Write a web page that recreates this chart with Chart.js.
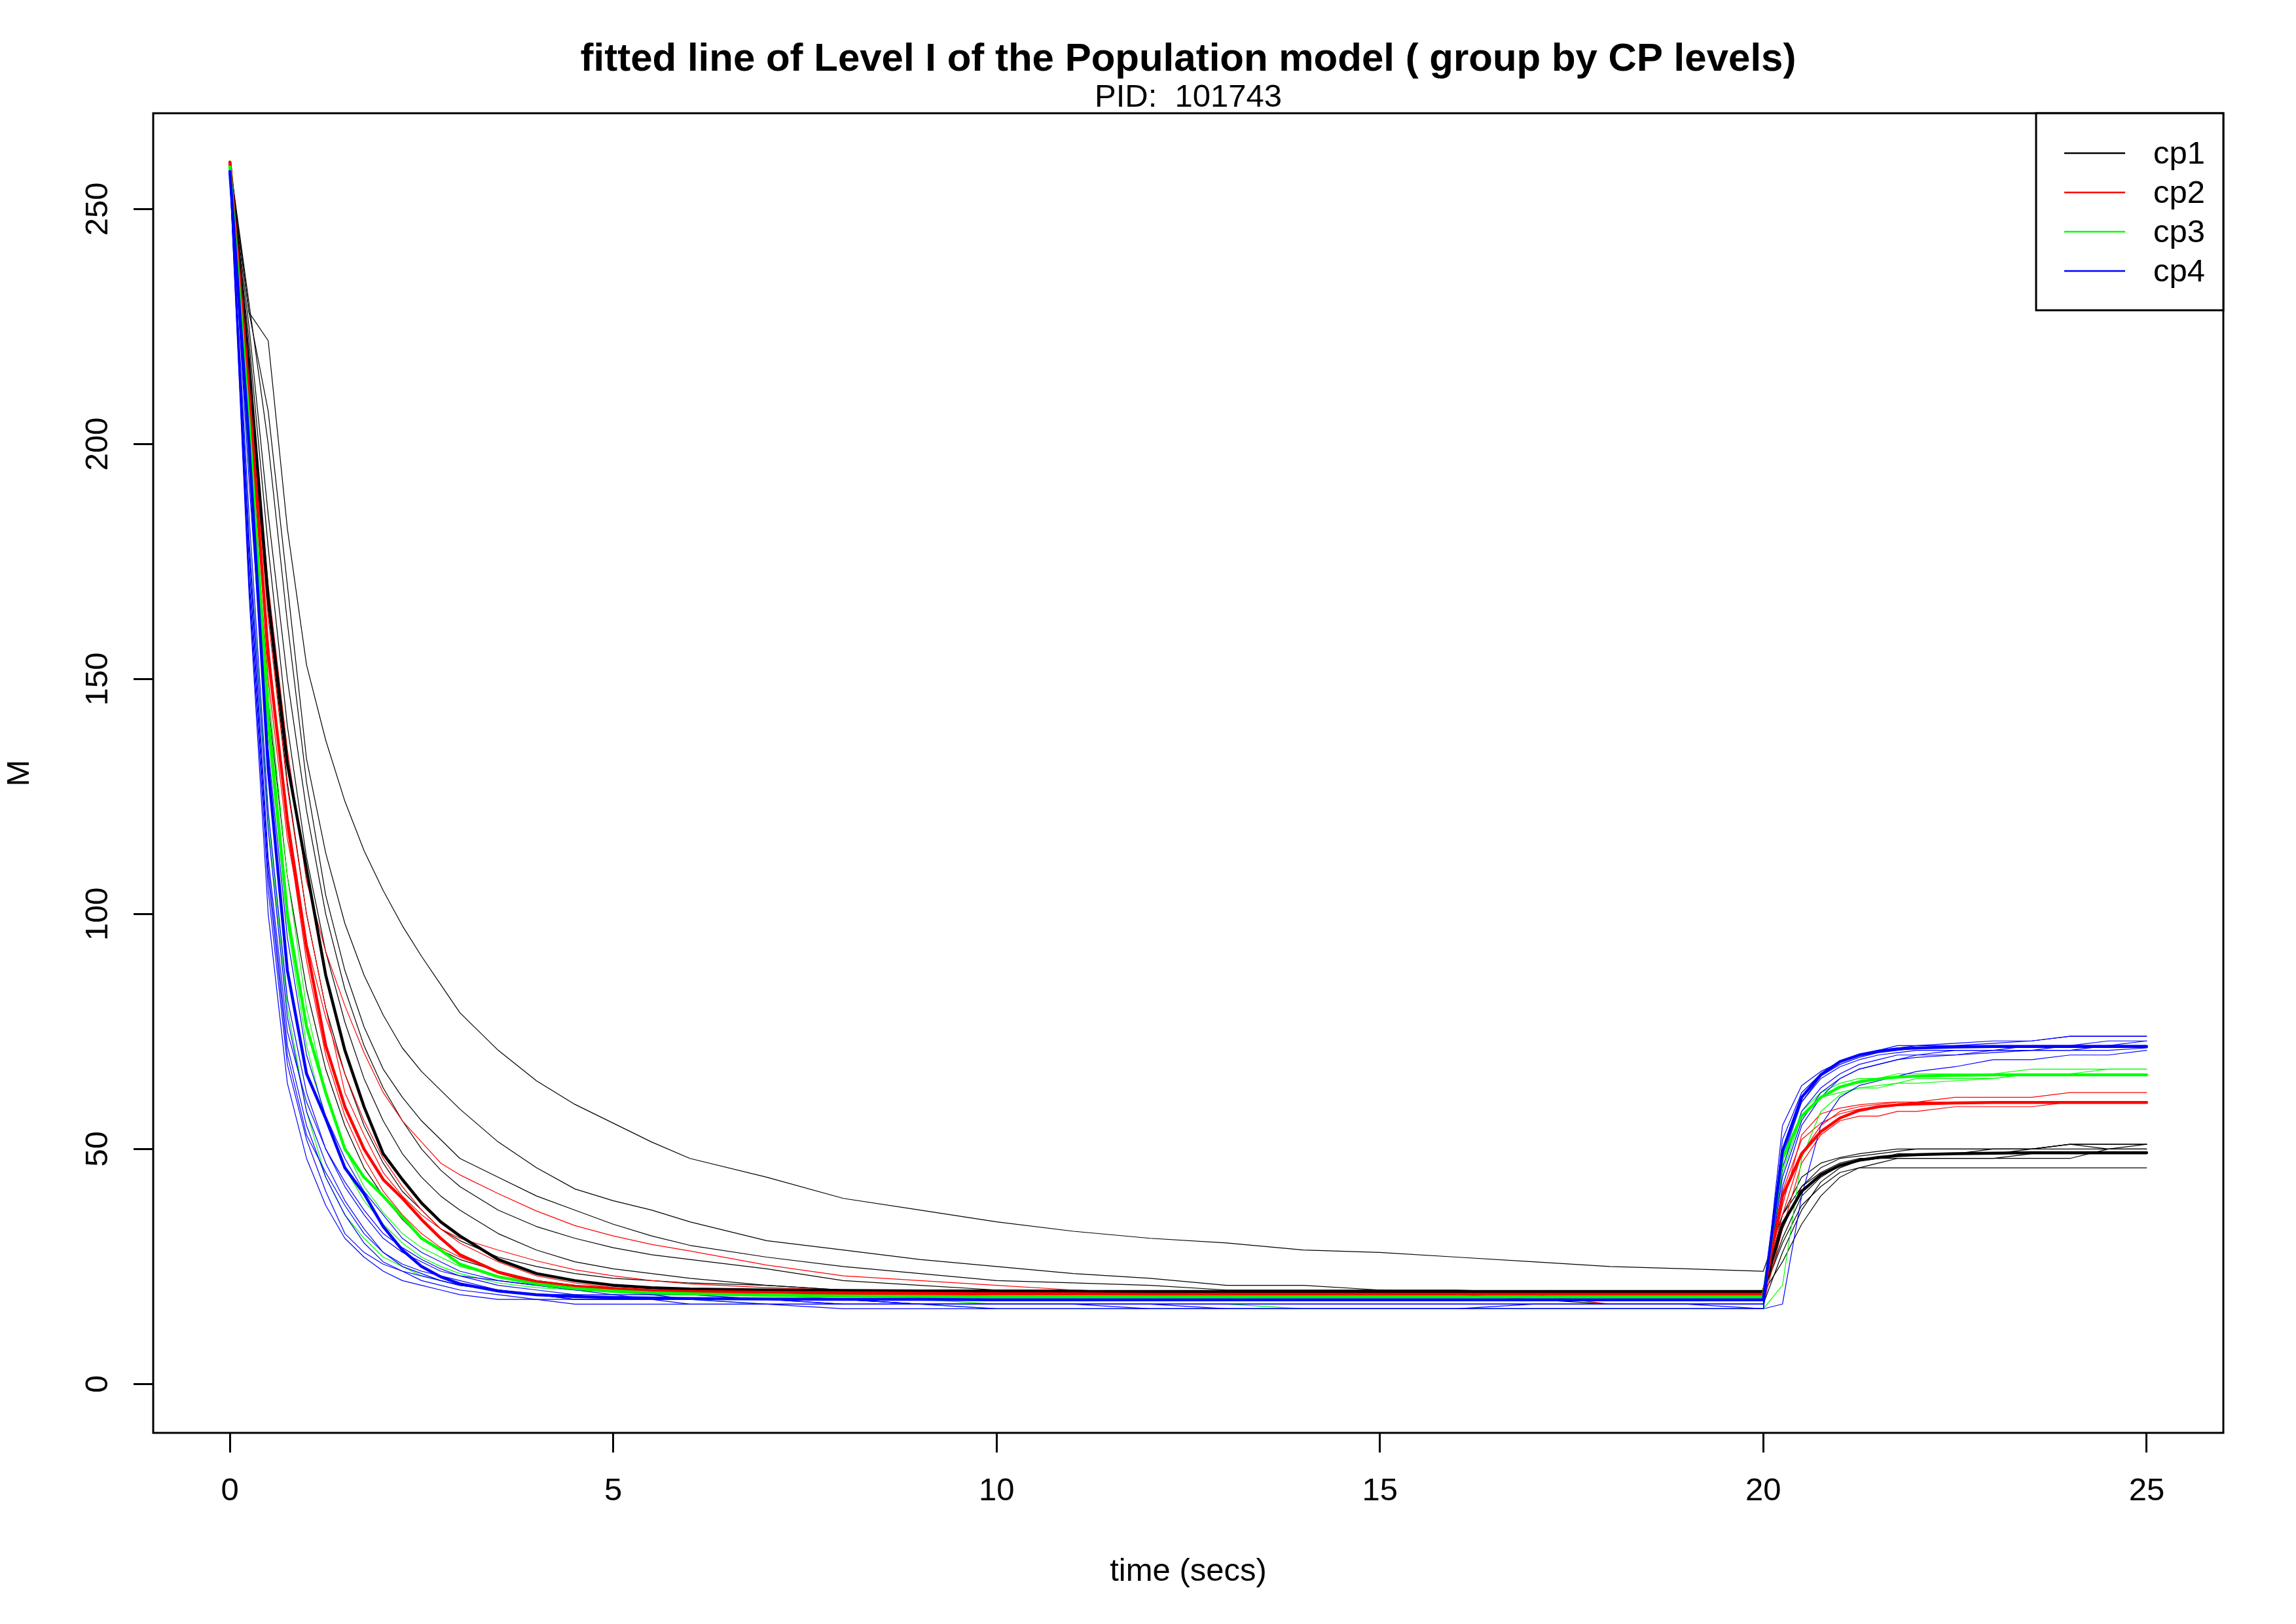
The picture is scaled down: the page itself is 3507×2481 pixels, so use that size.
<!DOCTYPE html>
<html lang="en">

<head>
    <meta charset="UTF-8">
    <title>fitted line of Level I</title>
    <script src="https://cdn.jsdelivr.net/npm/chart.js"></script>
    <style>
        html, body { margin: 0; padding: 0; background: #fff; }
    </style>
</head>

<body>
    <canvas id="myChart" width="3507" height="2481"></canvas>

    <script>
        // ---- data ----
        const mainTitle = 'fitted line of Level I of the Population model ( group by CP levels)';
        const subTitle = 'PID:  101743';
        const xLabel = 'time (secs)';
        const yLabel = 'M';
        const groups = ['cp1', 'cp2', 'cp3', 'cp4'];
        const xTicks = [0, 5, 10, 15, 20, 25];
        const yTicks = [0, 50, 100, 150, 200, 250];

        // sample times (secs)
        const times = [
            0, 0.25, 0.5, 0.75, 1, 1.25, 1.5, 1.75, 2, 2.25, 2.5, 2.75, 3, 3.5, 4, 4.5, 5, 5.5, 6,
            7, 8, 9, 10, 11, 12, 13, 14, 15, 16, 17, 18, 19, 20,
            20.25, 20.5, 20.75, 21, 21.25, 21.5, 21.75, 22, 22.5, 23, 23.5, 24, 24.5, 25
        ];

        // fitted population lines (thick)
        const cp1Fit = [
            260, 217, 167, 132, 109.5, 87, 71, 59, 49, 43.5, 38.5, 34.5, 31.5, 26.5, 23.5, 22, 21, 20.5, 20.2,
            20, 19.9, 19.8, 19.8, 19.7, 19.7, 19.7, 19.7, 19.7, 19.7, 19.7, 19.7, 19.7, 19.7,
            34, 41, 44.5, 46.5, 47.6, 48.2, 48.6, 48.8, 49, 49.1, 49.2, 49.2, 49.2, 49.2
        ];
        const cp2Fit = [
            260, 211, 155, 120, 93, 72, 59, 50, 43.5, 39.5, 35, 31, 27.5, 23.8, 21.6, 20.8, 20.3, 19.9, 19.7,
            19.5, 19.4, 19.3, 19.2, 19.2, 19.1, 19.1, 19.1, 19.1, 19.1, 19.1, 19.1, 19.1, 19.1,
            40, 49, 53.7, 56.6, 58.2, 59, 59.4, 59.6, 59.8, 59.9, 59.9, 59.9, 59.9, 59.9
        ];
        const cp3Fit = [
            259, 205, 142, 100, 76, 62, 50, 44, 40, 35.5, 31, 28.5, 25.5, 22.8, 21.3, 20.3, 19.8, 19.4, 19.2,
            18.9, 18.7, 18.6, 18.5, 18.5, 18.5, 18.5, 18.5, 18.5, 18.5, 18.5, 18.5, 18.5, 18.5,
            48, 57, 61, 63.2, 64.3, 64.9, 65.3, 65.5, 65.7, 65.8, 65.8, 65.8, 65.8, 65.8
        ];
        const cp4Fit = [
            258, 200, 131, 88, 66, 56.5, 46, 40.5, 33.5, 28.5, 25, 22.8, 21.3, 19.8, 19, 18.6, 18.4, 18.3, 18.2,
            18.1, 18, 18, 17.9, 17.9, 17.9, 17.9, 17.9, 17.9, 17.9, 17.9, 17.9, 17.9, 17.9,
            49.5, 61, 65.8, 68.6, 70, 70.8, 71.3, 71.5, 71.7, 71.8, 71.8, 71.8, 71.8, 71.8
        ];

        // observed subject lines (thin)
        const cp1Obs = [
            [260, 228, 222, 182, 153, 137, 124, 113.5, 105, 97.5, 91, 85, 79, 71, 64.5, 59.5, 55.5, 51.5, 48,
                44, 39.5, 37, 34.5, 32.5, 31, 30, 28.5, 28, 27, 26, 25, 24.5, 24,
                36, 42, 45, 47, 48, 48, 49, 49, 49, 50, 50, 51, 50, 51],
            [260, 228, 207, 170, 133, 113, 98, 87, 78.5, 71.5, 66.5, 62.5, 58.5, 51.5, 46, 41.5, 39, 37, 34.5,
                30.5, 28.5, 26.5, 25, 23.5, 22.5, 21, 21, 20, 20, 19.5, 19.5, 19.5, 19.5,
                30, 38, 42, 45, 46, 46, 46, 46, 46, 46, 46, 46, 46, 46],
            [260, 230, 200, 162, 128, 104, 88, 76, 67, 61, 56, 52, 48, 44, 40, 37, 34, 31.5, 29.5,
                27, 25, 23.5, 22, 21.5, 21, 20, 20, 20, 19.5, 19.5, 19.5, 19.5, 19.5,
                33, 42, 46, 48, 48.5, 49, 49.5, 50, 50, 50, 50, 50, 50, 50],
            [260, 225, 185, 150, 122, 100, 84, 72, 63, 56, 50, 45.5, 42, 37, 33.5, 31, 29, 27.5, 26.5,
                24.5, 22, 21, 20, 19.5, 19.5, 19.5, 19.5, 19.5, 19.5, 19.5, 19.5, 19.5, 19.5,
                36, 44, 47, 48.2, 49, 49.5, 50, 50, 50, 50, 50, 51, 51, 51],
            [260, 222, 178, 140, 112, 92, 77, 65, 56, 49, 44, 40, 37, 32, 28.5, 26, 24.5, 23.5, 22.5,
                21, 20, 19.5, 19.5, 19.5, 19.5, 19.5, 19.5, 19.5, 19.5, 19.5, 19.5, 19.5, 19.5,
                31, 40, 44, 46.5, 47.5, 48, 48, 48, 48, 48, 48, 48, 50, 50],
            [260, 200, 145, 108, 84, 67, 55, 46, 40, 35, 31, 28.5, 26.5, 24, 22, 21, 20, 19.5, 19.5,
                19, 19, 19, 19, 19, 19, 19, 19, 19, 19, 18, 17, 17, 17,
                28, 37, 43, 46, 47.5, 48, 48.5, 49, 49, 49, 50, 51, 51, 51],
            [260, 215, 165, 128, 100, 80, 66, 55, 47, 41, 37, 33, 30.5, 27, 25, 23.5, 22.5, 22, 21.5,
                21, 20, 20, 20, 20, 19.5, 19.5, 19.5, 19.5, 19.5, 19.5, 19.5, 19.5, 19.5,
                26, 34, 40, 44, 46, 47, 48, 48, 48, 48, 49, 49, 49, 49]
        ];
        const cp2Obs = [
            [260, 215, 170, 135, 107, 92, 80.5, 70.5, 62, 56, 51.5, 47, 44.5, 40.5, 36.8, 33.7, 31.5, 29.7, 28.3,
                25.3, 23, 22, 21, 20, 19.5, 19, 19, 19, 19, 19, 19, 19, 19,
                38, 53, 57.5, 58.7, 59.4, 59.8, 60, 60, 61, 61, 61, 62, 62, 62],
            [260, 212, 163, 127, 100, 80, 62, 53, 45, 40, 36, 33, 31, 28.5, 26.2, 24.3, 23, 22, 21.3,
                20.5, 20, 20, 19.5, 19.5, 19, 19, 19, 19, 19, 19, 17, 17, 17,
                33, 47, 53, 56, 57, 57, 58, 58, 59, 59, 59, 60, 60, 60],
            [260, 210, 158, 118, 90, 70, 57, 48, 41, 36, 32, 29, 27, 24, 22, 21, 20, 20, 19,
                19, 19, 19, 19, 19, 19, 19, 19, 19, 19, 19, 19, 19, 19,
                41, 52, 55.5, 57.5, 58.5, 59, 59.5, 60, 60, 60, 60, 60, 60, 60],
            [259, 200, 150, 116, 94, 78, 66, 56, 48, 42, 37, 33, 30, 26, 23, 21.5, 20.5, 20, 20,
                19.5, 19, 19, 19, 19, 19, 19, 19, 19, 19, 19, 19, 19, 19,
                36, 49, 55, 58, 59, 59.5, 60, 60, 60, 60, 60, 60, 60, 60]
        ];
        const cp3Obs = [
            [258, 180, 120, 80, 58, 44, 36, 31, 27, 25, 23, 22, 21, 20, 19, 19, 18, 18, 18,
                17, 17, 17, 16, 16, 16, 16, 16, 16, 16, 16, 16, 16, 16,
                21, 48, 58, 61.5, 63, 63.5, 64, 64, 64.5, 65, 66, 66, 67, 67],
            [259, 195, 138, 98, 72, 56, 46, 39, 34, 30, 27, 25, 23.5, 21.5, 20.5, 20, 19.5, 19, 19,
                18, 18, 18, 17, 17, 17, 17, 16, 16, 16, 16, 16, 16, 16,
                45, 57, 61, 62, 63, 63, 64, 65, 65, 65, 66, 66, 66, 66],
            [259, 200, 148, 108, 80, 62, 50, 42, 36.5, 32, 29, 27, 25, 23, 21.5, 20.5, 20, 19.5, 19,
                19, 18, 18, 18, 18, 18, 18, 18, 18, 18, 18, 18, 18, 18,
                46, 58, 62, 64, 65, 65, 66, 66, 66, 66, 67, 67, 67, 67]
        ];
        const cp4Obs = [
            [257, 170, 105, 68, 52, 41, 32, 28, 25.5, 24, 23, 22, 21, 20, 19, 18, 18, 18, 17,
                17, 17, 17, 17, 17, 17, 17, 17, 17, 17, 17, 17, 17, 17,
                55, 63.5, 66.5, 68.5, 70, 71, 72, 72, 72.5, 73, 73, 74, 74, 74],
            [257, 175, 110, 72, 55, 44, 36, 30, 26, 24, 22, 21, 20, 19, 18, 18, 18, 18, 18,
                17, 17, 17, 16, 16, 16, 16, 16, 16, 16, 16, 16, 16, 16,
                17, 40, 55, 61, 63.5, 64.5, 65.5, 66.5, 67.5, 69, 69, 70, 70, 71],
            [258, 180, 118, 78, 58, 47, 39, 33, 28, 25, 23.5, 22, 21, 20, 19, 18, 18, 18, 18,
                18, 18, 17, 17, 17, 17, 17, 17, 17, 17, 17, 17, 17, 17,
                50, 60, 65, 67.5, 69, 70, 70.5, 71, 71, 71, 72, 72, 73, 73],
            [258, 178, 112, 75, 60, 50, 42, 36, 31, 28, 26, 24, 23, 22, 21, 20, 20, 19, 19,
                18, 18, 17, 17, 17, 16, 16, 16, 16, 16, 16, 16, 16, 16,
                46, 58, 63, 66, 68, 69, 70, 70, 71, 71, 71, 72, 72, 72],
            [258, 172, 108, 70, 53, 45, 38, 32, 28, 25.5, 24, 23, 22, 20, 19, 19, 18, 18, 18,
                18, 17, 17, 17, 17, 17, 16, 16, 16, 16, 17, 17, 17, 16,
                52, 62, 66, 68.5, 70, 71, 71.5, 72, 72, 72, 72, 72, 72, 72],
            [258, 192, 135, 95, 70, 57, 48, 41, 36, 31, 28, 26, 24, 22, 21, 20, 19, 19, 18,
                18, 18, 17, 17, 17, 17, 17, 17, 17, 17, 17, 17, 17, 17,
                44, 56, 62, 65, 67, 68, 69, 70, 70, 71, 71, 71, 71, 71.5],
            [257, 185, 122, 82, 62, 50, 43, 37, 32, 29, 26.5, 24.5, 23, 21, 20, 19, 19, 18, 18,
                18, 17, 17, 17, 17, 17, 17, 17, 17, 17, 17, 17, 17, 17,
                48, 60, 65.5, 68, 69.5, 70.5, 71, 71.5, 72, 72.5, 73, 74, 74, 74],
            [257, 168, 100, 64, 48, 38, 31, 27, 24, 22, 21, 20, 19, 18, 18, 17, 17, 17, 17,
                17, 16, 16, 16, 16, 16, 16, 16, 16, 16, 16, 16, 16, 16,
                42, 55, 61, 65, 67, 68, 69, 69.5, 70, 70.5, 71, 71, 72, 73]
        ];
    </script>

    <script>
        const ctx = document.getElementById('myChart');
        const FONT = '"Liberation Sans", Arial, Helvetica, sans-serif';
        const colors = ['#000000', '#ff0000', '#00ff00', '#0000ff'];

        const toPoints = (vals) => times.map((t, i) => ({ x: t, y: vals[i] }));

        const datasets = [];
        // thin subject lines, behind the fits
        [cp1Obs, cp2Obs, cp3Obs, cp4Obs].forEach((subjects, g) => {
            subjects.forEach((vals) => {
                datasets.push({
                    label: groups[g],
                    data: toPoints(vals),
                    borderColor: colors[g],
                    borderWidth: 1.2,
                    order: 8 - g,
                });
            });
        });
        // thick fitted lines
        [cp1Fit, cp2Fit, cp3Fit, cp4Fit].forEach((vals, g) => {
            datasets.push({
                label: groups[g] + ' fit',
                data: toPoints(vals),
                borderColor: colors[g],
                borderWidth: 4.5,
                order: 3 - g,
            });
        });

        // R-style frame, titles, rotated y labels and legend
        const rDecor = {
            id: 'rDecor',
            afterDatasetsDraw(chart) {
                const c = chart.ctx;
                const a = chart.chartArea;
                const cx = (a.left + a.right) / 2;
                c.save();
                c.strokeStyle = '#000';
                c.lineWidth = 3;
                c.strokeRect(a.left, a.top, a.right - a.left, a.bottom - a.top);

                c.fillStyle = '#000';
                c.textAlign = 'center';
                c.textBaseline = 'alphabetic';
                c.font = 'bold 60px ' + FONT;
                c.fillText(mainTitle, cx, 108);
                c.font = '49px ' + FONT;
                c.fillText(subTitle, cx, 163);
                c.fillText(xLabel, cx, 2415);

                // y tick labels, vertical like R's las=0
                yTicks.forEach((v) => {
                    const py = chart.scales.y.getPixelForValue(v);
                    c.save();
                    c.translate(164, py);
                    c.rotate(-Math.PI / 2);
                    c.fillText(String(v), 0, 0);
                    c.restore();
                });
                c.save();
                c.translate(44, (a.top + a.bottom) / 2);
                c.rotate(-Math.PI / 2);
                c.fillText(yLabel, 0, 0);
                c.restore();

                // legend in top right corner
                const lx = 3110, ly = a.top, lw = a.right - 3110, lh = 301;
                c.fillStyle = '#fff';
                c.fillRect(lx, ly, lw, lh);
                c.strokeStyle = '#000';
                c.lineWidth = 3;
                c.strokeRect(lx, ly, lw, lh);
                c.textAlign = 'left';
                c.textBaseline = 'middle';
                groups.forEach((name, i) => {
                    const y = ly + 61 + i * 60;
                    c.strokeStyle = colors[i];
                    c.lineWidth = 2.5;
                    c.beginPath();
                    c.moveTo(3153, y);
                    c.lineTo(3246, y);
                    c.stroke();
                    c.fillStyle = '#000';
                    c.fillText(name, 3289, y + 2);
                });
                c.restore();
            }
        };

        new Chart(ctx, {
            type: 'line',
            data: { datasets: datasets },
            options: {
                responsive: false,
                animation: false,
                devicePixelRatio: 1,
                layout: { padding: { left: 0, top: 173, right: 111, bottom: 0 } },
                elements: {
                    point: { radius: 0 },
                    line: { tension: 0, borderCapStyle: 'round', borderJoinStyle: 'round' },
                },
                plugins: {
                    legend: { display: false },
                    title: { display: false },
                    tooltip: { enabled: false },
                },
                scales: {
                    x: {
                        type: 'linear',
                        min: -1,
                        max: 26,
                        afterBuildTicks: (s) => { s.ticks = xTicks.map((v) => ({ value: v })); },
                        afterFit: (s) => { s.height = 292; },
                        grid: { drawOnChartArea: false, drawTicks: true, tickLength: 30, tickWidth: 3, tickColor: '#000' },
                        border: { display: false },
                        ticks: {
                            color: '#000',
                            font: { family: FONT, size: 49 },
                            padding: 30,
                            maxRotation: 0,
                            autoSkip: false,
                        },
                    },
                    y: {
                        type: 'linear',
                        min: -10.4,
                        max: 270.4,
                        afterBuildTicks: (s) => { s.ticks = yTicks.map((v) => ({ value: v })); },
                        afterFit: (s) => { s.width = 234; },
                        grid: { drawOnChartArea: false, drawTicks: true, tickLength: 30, tickWidth: 3, tickColor: '#000' },
                        border: { display: false },
                        ticks: { display: false },
                    },
                },
            },
            plugins: [rDecor],
        });
    </script>
</body>

</html>
